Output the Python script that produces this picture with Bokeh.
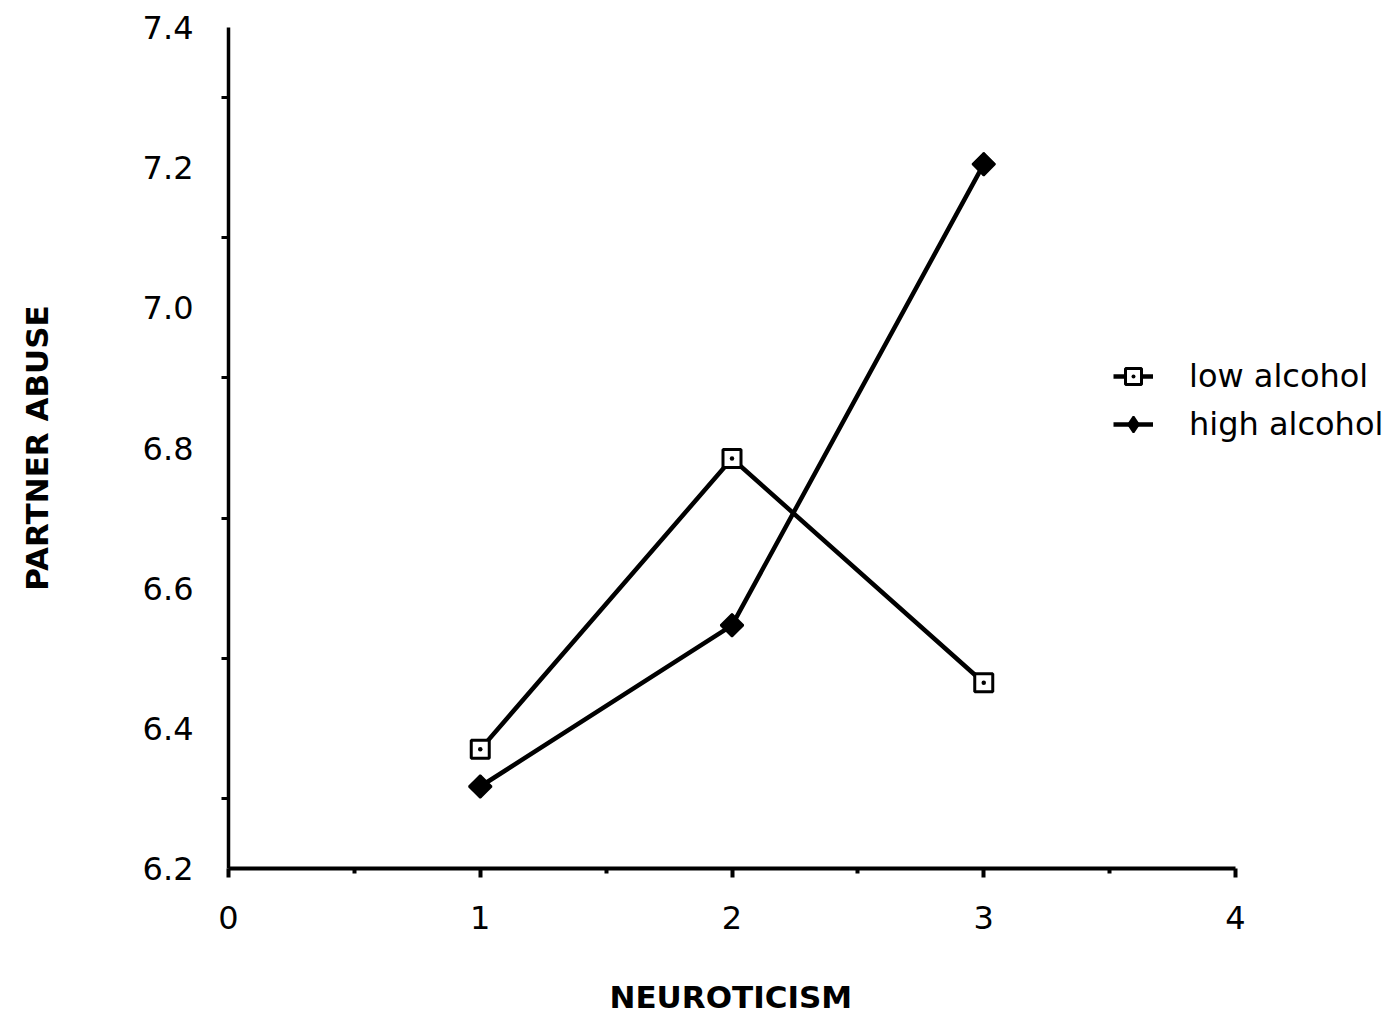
import math
from bokeh.plotting import figure
from bokeh.models import FixedTicker, Range1d, Legend, LegendItem, Title
from bokeh.embed import file_html
from bokeh.resources import INLINE

neuroticism = [1, 2, 3]
low_alcohol = [6.37, 6.785, 6.465]
high_alcohol = [6.317, 6.547, 7.205]
x_ticks = [0, 1, 2, 3, 4]
x_minor = [0.5, 1.5, 2.5, 3.5]
y_ticks = [6.2, 6.4, 6.6, 6.8, 7.0, 7.2, 7.4]
y_minor = [6.3, 6.5, 6.7, 6.9, 7.1, 7.3]
y_labels = {6.2: "6.2", 6.4: "6.4", 6.6: "6.6", 6.8: "6.8", 7.0: "7.0", 7.2: "7.2", 7.4: "7.4"}

# frame spans 0..4 over 1007 px; extra room on the right holds the legend
p = figure(width=1384, height=1015, output_backend="svg", toolbar_location=None,
           x_range=Range1d(0, 4 + 149 / 251.75), y_range=Range1d(6.2, 7.4),
           min_border_left=228, min_border_right=0, min_border_top=27, min_border_bottom=147)
p.outline_line_color = None
p.xgrid.visible = False
p.ygrid.visible = False
p.background_fill_color = "white"

FONT = "DejaVu Sans"

xa = p.xaxis[0]
xa.ticker = FixedTicker(ticks=x_ticks, minor_ticks=x_minor)
xa.bounds = (0, 4)
xa.axis_line_width = 4
xa.major_tick_line_width = 4
xa.minor_tick_line_width = 4
xa.major_tick_out = 9
xa.major_tick_in = 0
xa.minor_tick_out = 5
xa.minor_tick_in = 0
xa.major_label_standoff = 28
xa.major_label_text_font = FONT
xa.major_label_text_font_size = "32px"
xa.major_label_text_color = "black"
# blank spacer label: pushes the axis title (drawn below, left-aligned) further down
xa.axis_label = " "
xa.axis_label_text_font_size = "12px"
xa.axis_label_standoff = 28

xtitle = Title(text="NEUROTICISM", align="left", offset=381, standoff=0,
               vertical_align="bottom", text_font=FONT, text_font_style="bold",
               text_font_size="31px", text_color="black")
p.add_layout(xtitle, "below")

ya = p.yaxis[0]
ya.ticker = FixedTicker(ticks=y_ticks, minor_ticks=y_minor)
ya.axis_line_width = 3.5
ya.major_tick_out = 0
ya.major_tick_in = 0
ya.minor_tick_out = 7
ya.minor_tick_in = 0
ya.minor_tick_line_width = 3
ya.major_label_overrides = y_labels
ya.major_label_standoff = 28
ya.major_label_text_font = FONT
ya.major_label_text_font_size = "32px"
ya.major_label_text_color = "black"
ya.axis_label = "PARTNER ABUSE"
ya.axis_label_text_font = FONT
ya.axis_label_text_font_style = "bold"
ya.axis_label_text_font_size = "31px"
ya.axis_label_text_color = "black"
ya.axis_label_standoff = 85

l1 = p.line(neuroticism, low_alcohol, line_color="black", line_width=4.5)
m1 = p.scatter(neuroticism, low_alcohol, marker="square_dot", size=18,
               fill_color="white", line_color="black", line_width=3)
l2 = p.line(neuroticism, high_alcohol, line_color="black", line_width=4.5)
m2d = p.scatter(neuroticism, high_alcohol, marker="diamond", size=22,
                fill_color="black", line_color="black", line_width=2)
m2 = p.scatter(neuroticism, high_alcohol, marker="square", size=16, angle=math.pi / 4,
               fill_color="black", line_color="black", line_width=2)

legend = Legend(items=[LegendItem(label="low alcohol", renderers=[l1, m1]),
                       LegendItem(label="high alcohol", renderers=[l2, m2d])],
                location=(885, 424), padding=0, margin=0, spacing=8,
                glyph_width=40, glyph_height=40, label_standoff=36,
                label_text_font=FONT, label_text_font_size="32px", label_text_color="black",
                border_line_alpha=0, background_fill_alpha=0)
p.add_layout(legend)

open("out.html", "w").write(file_html(p, INLINE))
